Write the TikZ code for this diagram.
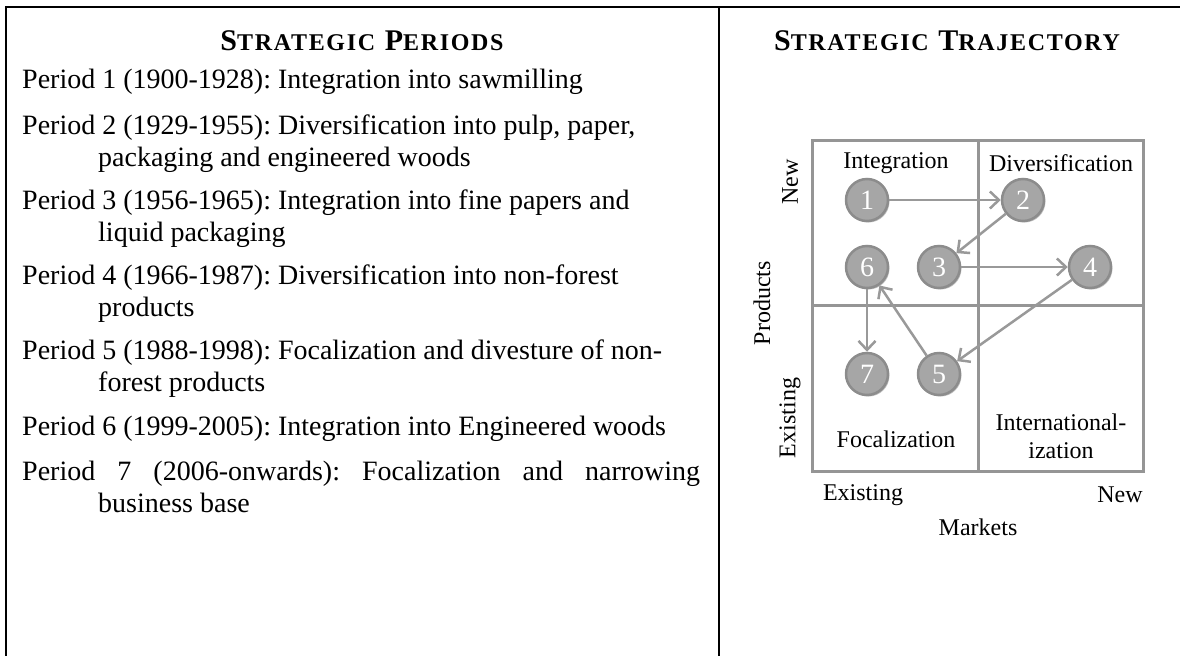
\documentclass[tikz,border=0pt]{standalone}
\usepackage{fontspec}
\setmainfont{Liberation Serif}
\usetikzlibrary{arrows.meta,shadows}
\definecolor{gridgray}{HTML}{959595}
\definecolor{circfill}{HTML}{A6A6A6}
\definecolor{circdraw}{HTML}{8C8C8C}
\definecolor{arrowgray}{HTML}{999999}
\frenchspacing
\newcommand{\fsc}[1]{{\fontsize{24}{24}\selectfont #1}}
\newcommand{\titlefont}{\fontsize{30}{30}\selectfont\bfseries\addfontfeature{LetterSpace=7}}
\begin{document}
\begin{tikzpicture}[x=1pt,y=-1pt,
  frame/.style={draw=black,line width=2pt},
  body/.style={anchor=base west,inner sep=0pt,font=\fontsize{28}{32}\selectfont},
  title/.style={anchor=base,inner sep=0pt,font=\titlefont},
  lbl/.style={inner sep=0pt,font=\fontsize{24}{28}\selectfont,align=center},
  gridline/.style={draw=gridgray,line width=3pt},
  stage/.style={circle,minimum size=42pt,inner sep=0pt,fill=circfill,draw=circdraw,line width=2.5pt,
    text=white,font=\fontsize{28}{28}\selectfont,
    drop shadow={shadow xshift=1.5pt,shadow yshift=-1.5pt,opacity=0.25,fill=black}},
  traj/.style={draw=arrowgray,line width=2.5pt,-{Straight Barb[length=9pt,width=17pt]}}]
\useasboundingbox (0,0) rectangle (1180,656);
% frame
\coordinate (tl) at (6,7);
\coordinate (tr) at (1180,7);
\coordinate (bl) at (6,656);
\coordinate (mt) at (719,7);
\coordinate (mb) at (719,656);
\draw[frame] (tr) -- (tl) -- (bl);
\draw[frame] (mt) -- (mb);
% titles
\node[title] (t1) at (362,50) {S\fsc{TRATEGIC} P\fsc{ERIODS}};
\node[title] (t2) at (947,50) {S\fsc{TRATEGIC} T\fsc{RAJECTORY}};
% left text
\node[body] (p1a) at (22,88) {Period 1 (1900-1928): Integration into sawmilling};
\node[body] (p2a) at (22,134) {Period 2 (1929-1955): Diversification into pulp, paper,};
\node[body] (p2b) at (98,166) {packaging and engineered woods};
\node[body] (p3a) at (22,209) {Period 3 (1956-1965): Integration into fine papers and};
\node[body] (p3b) at (98,241) {liquid packaging};
\node[body] (p4a) at (22,284) {Period 4 (1966-1987): Diversification into non-forest};
\node[body] (p4b) at (98,316) {products};
\node[body] (p5a) at (22,359) {Period 5 (1988-1998): Focalization and divesture of non-};
\node[body] (p5b) at (98,391) {forest products};
\node[body] (p6a) at (22,435) {Period 6 (1999-2005): Integration into Engineered woods};
\node[body] (p7a) at (22,480) {\makebox[678pt][s]{Period 7 (2006-onwards): Focalization and narrowing}};
\node[body] (p7b) at (98,512) {business base};
% grid
\draw[gridline] (812,140) rectangle (1143,471);
\draw[gridline] (978,140) -- (978,471);
\draw[gridline] (812,305) -- (1143,305);
% quadrant labels
\node[lbl] (qi) at (896,163) {Integration};
\node[lbl] (qd) at (1061,163) {Diversification};
\node[lbl] (qf) at (896,439) {Focalization};
\node[lbl] (qn) at (1061,436) {International-\\ization};
% axis labels
\node[lbl,rotate=90] (ynew) at (790,182) {New};
\node[lbl,rotate=90] (yprod) at (762,303) {Products};
\node[lbl,rotate=90] (yex) at (790,418) {Existing};
\node[lbl] (xex) at (863,495) {Existing};
\node[lbl] (xnew) at (1120,495) {New};
\node[lbl] (xmk) at (978,527) {Markets};
% stages
\node[stage] (n1) at (867,200) {1};
\node[stage] (n2) at (1023,200) {2};
\node[stage] (n3) at (939,267) {3};
\node[stage] (n4) at (1090,267) {4};
\node[stage] (n5) at (939,374) {5};
\node[stage] (n6) at (867,267) {6};
\node[stage] (n7) at (867,374) {7};
% trajectory
\draw[traj] (n1) -- (n2);
\draw[traj] (n2) -- (n3);
\draw[traj] (n3) -- (n4);
\draw[traj] (n4) -- (n5);
\draw[traj] (n5) -- (n6);
\draw[traj] (n6) -- (n7);
\end{tikzpicture}
\end{document}
